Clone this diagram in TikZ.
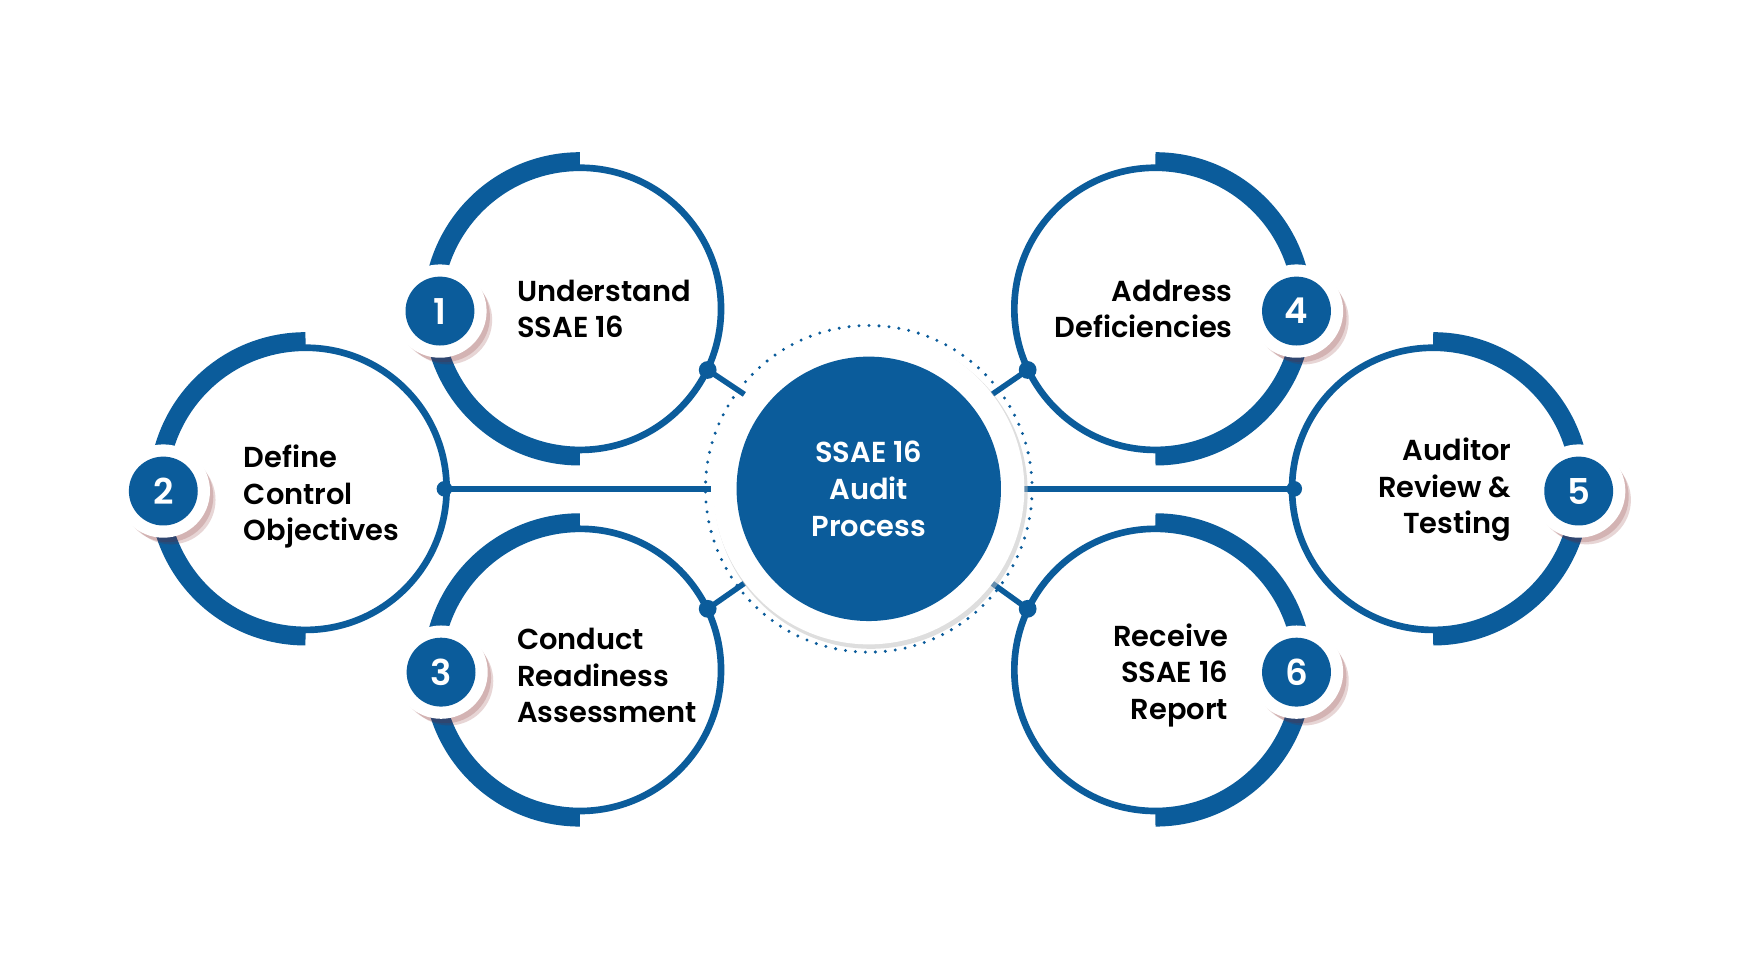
\documentclass[tikz,border=0pt]{standalone}
\usepackage{fontspec}
\usetikzlibrary{calc}
\setmainfont{Poppins}[BoldFont={Poppins SemiBold}]
\definecolor{bl}{HTML}{0B5C9B}
\definecolor{sh}{HTML}{7A1A1A}
\begin{document}
\begin{tikzpicture}[x=1pt,y=-1pt,
  thin/.style={draw=bl,line width=6},
  band/.style={draw=bl,line width=14},
  lbl/.style={font=\bfseries\fontsize{26}{33}\selectfont,text=black},
  dotc/.style={circle,fill=bl,inner sep=0,minimum size=16},
  conn/.style={draw=bl,line width=5}]
\useasboundingbox (0,0) rectangle (1568,882);
\fill[white] (0,0) rectangle (1568,882);
% step circles
\foreach \n/\x/\y/\s in {c1/522/278/1,c2/275/440/1,c3/522/603/1,c4/1040/278/-1,c5/1290/440/-1,c6/1040/603/-1}{
  \coordinate (\n) at (\x,\y);
  \draw[thin] (\n) circle (127);
  \ifnum\s=1
    \draw[band] ($(\n)+(0,-134)$) arc[start angle=-90,end angle=-270,radius=134];
  \else
    \draw[band] ($(\n)+(0,-134)$) arc[start angle=-90,end angle=90,radius=134];
  \fi
}
% connectors
\coordinate (k1) at (670,355); \coordinate (k3) at (670,525);
\coordinate (k4) at (893,355); \coordinate (k6) at (893,525);
\coordinate (k2) at (640,440); \coordinate (k5) at (922,440);
\node[dotc] (d1) at (637,333) {}; \node[dotc] (d3) at (637,548) {};
\node[dotc] (d4) at (925,333) {}; \node[dotc] (d6) at (925,548) {};
\node[dotc,minimum size=14] (d2) at (400,440) {}; \node[dotc,minimum size=14] (d5) at (1165,440) {};
\draw[conn] (d1.center)--(k1); \draw[conn] (d3.center)--(k3);
\draw[conn] (d4.center)--(k4); \draw[conn] (d6.center)--(k6);
\draw[conn] (d2.center)--(k2); \draw[conn] (d5.center)--(k5);
% center
\fill[black!25,opacity=.5] (784,443) circle (141);
\fill[white] (782,440) circle (140);
\draw[bl,line width=3,dash pattern=on 0pt off 9pt,line cap=round] (782,440) circle (147);
\node[circle,fill=bl,minimum size=238,inner sep=0,align=center,text=white,
  font=\bfseries\fontsize{26}{33}\selectfont] (ctr) at (782,440) {SSAE 16\\Audit\\Process};
% badges
\foreach \n/\x/\y in {1/396/280,2/147/442,3/397/605,4/1167/280,5/1421/442,6/1167/605}{
  \fill[sh,opacity=.18] (\x+7,\y+8) circle (40);
  \fill[sh,opacity=.18] (\x+4,\y+5) circle (41);
  \fill[white] (\x,\y) circle (42);
  \node[circle,fill=bl,minimum size=62,inner sep=0,text=white,
    font=\bfseries\fontsize{32}{32}\selectfont] (b\n) at (\x,\y) {\n};
}
% labels
\node[lbl,anchor=west,align=left] (t1) at (462,278) {Understand\\SSAE 16};
\node[lbl,anchor=west,align=left] (t2) at (216,447) {Define\\Control\\Objectives};
\node[lbl,anchor=west,align=left] (t3) at (462,608) {Conduct\\Readiness\\Assessment};
\node[lbl,anchor=east,align=right] (t4) at (1113,278) {Address\\Deficiencies};
\node[lbl,anchor=east,align=right] (t5) at (1364,441) {Auditor\\Review \&\\Testing};
\node[lbl,anchor=east,align=right] (t6) at (1109,608) {Receive\\SSAE 16\\Report};
\end{tikzpicture}
\end{document}
